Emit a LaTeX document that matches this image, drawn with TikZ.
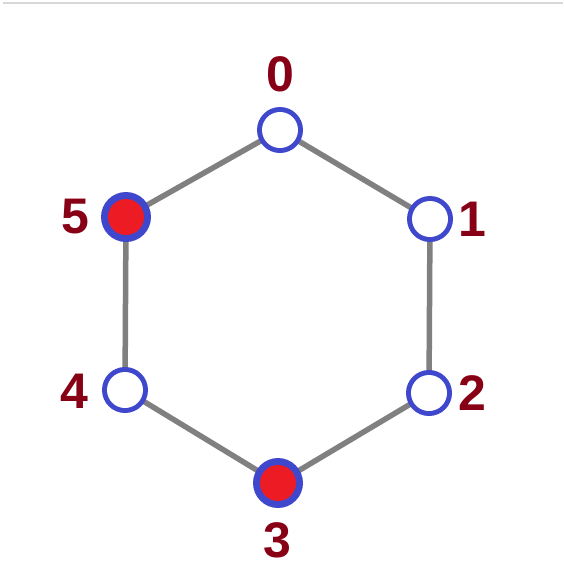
\documentclass[tikz,border=0pt]{standalone}
\usepackage{fontspec}
\setmainfont{Liberation Sans}
\usetikzlibrary{backgrounds}
\definecolor{nodeblue}{HTML}{3F48CC}
\definecolor{nodered}{HTML}{ED1C24}
\definecolor{labred}{HTML}{880015}
\definecolor{edgegray}{HTML}{808080}
\definecolor{topline}{HTML}{D8D8D8}
\begin{document}
\begin{tikzpicture}[x=1pt,y=1pt,
  vert/.style={circle,fill=nodeblue,draw=none,minimum size=46pt,inner sep=0pt,outer sep=0pt},
  redvert/.style={circle,fill=nodeblue,draw=none,minimum size=50pt,inner sep=0pt,outer sep=0pt},
  hole/.style={circle,fill=white,draw=none,minimum size=36pt,inner sep=0pt,outer sep=0pt},
  redhole/.style={circle,fill=nodered,draw=none,minimum size=36pt,inner sep=0pt,outer sep=0pt},
  lab/.style={text=labred,font=\fontsize{50}{50}\selectfont\bfseries,inner sep=0pt},
  gedge/.style={draw=edgegray,line width=5.5pt}]
\useasboundingbox (0,-579) rectangle (563,0);
\coordinate (tl) at (3,-3);
\coordinate (tr) at (563,-3);
\draw[topline,line width=1.5pt] (tl) -- (tr);
\node[vert] (n0) at (280,-130) {};
\node[vert] (n1) at (430,-219) {};
\node[vert] (n2) at (429,-393) {};
\node[redvert] (n3) at (278,-483) {};
\node[vert] (n4) at (125,-390) {};
\node[redvert] (n5) at (126,-217) {};
\node[hole] (h0) at (n0) {};
\node[hole] (h1) at (n1) {};
\node[hole] (h2) at (n2) {};
\node[redhole] (h3) at (n3) {};
\node[hole] (h4) at (n4) {};
\node[redhole] (h5) at (n5) {};
\begin{pgfonlayer}{background}
\draw[gedge] (n0.center) -- (n1.center) -- (n2.center) -- (n3.center) -- (n4.center) -- (n5.center) -- cycle;
\end{pgfonlayer}
\node[lab] (l0) at (280,-74) {0};
\node[lab] (l1) at (472,-219) {1};
\node[lab] (l2) at (472,-393) {2};
\node[lab] (l3) at (277,-540) {3};
\node[lab] (l4) at (74,-391) {4};
\node[lab] (l5) at (75,-217) {5};
\end{tikzpicture}
\end{document}
